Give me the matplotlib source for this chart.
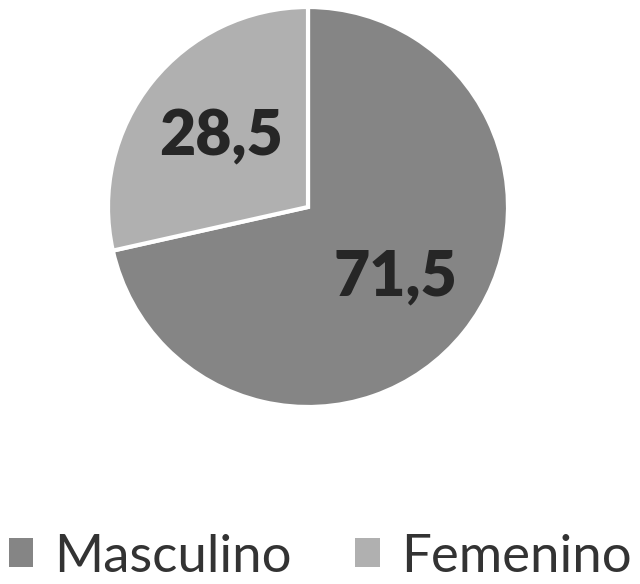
import matplotlib.pyplot as plt
from matplotlib.patches import Patch

categorias = ['Masculino', 'Femenino']
valores = [71.5, 28.5]
colores = ['#858585', '#b0b0b0']

plt.rcParams['font.family'] = ['Lato', 'DejaVu Sans']

fig = plt.figure(figsize=(6.4, 5.84), dpi=100)
ax = fig.add_axes([108 / 640, 177 / 584, 400 / 640, 400 / 584])

wedges, textos = ax.pie(
    valores,
    colors=colores,
    startangle=90,
    counterclock=False,
    labels=[f"{v:.1f}".replace('.', ',') for v in valores],
    labeldistance=0.56,
    wedgeprops=dict(edgecolor='white', linewidth=3),
    textprops=dict(fontsize=45, fontweight='heavy', color='#262626',
                   ha='center', va='center'),
)
ax.set_xlim(-1, 1)
ax.set_ylim(-1, 1)
ax.set_aspect('equal')

handles = [Patch(facecolor=c, edgecolor='none') for c in colores]
fig.legend(handles, categorias, loc='center', bbox_to_anchor=(0.5, 1 - 557 / 584),
           ncol=2, frameon=False, fontsize=38, labelcolor='#333333',
           borderpad=0, borderaxespad=0,
           handlelength=0.47, handleheight=0.47, handletextpad=0.4,
           columnspacing=1.19)

fig.savefig('out.png', dpi=100)
